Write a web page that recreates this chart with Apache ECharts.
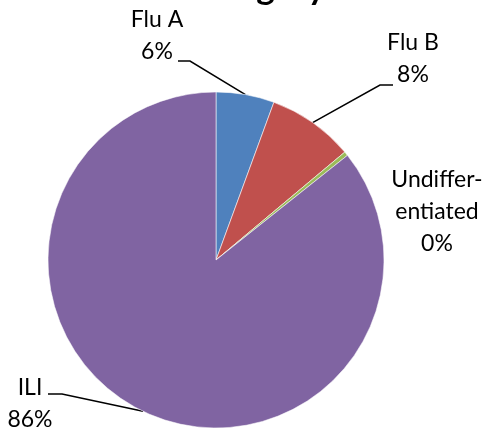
<!DOCTYPE html>
<html>
<head>
<meta charset="utf-8">
<script src="https://cdn.jsdelivr.net/npm/echarts@6/dist/echarts.min.js"></script>
<style>
html,body{margin:0;padding:0;background:#fff;}
#chart{width:487px;height:435px;}
</style>
</head>
<body>
<div id="chart"></div>
<script>
// ---- data ----
var categories = ['Flu A', 'Flu B', 'Undifferentiated', 'ILI'];
var labelNames = ['Flu A', 'Flu B', 'Undiffer-\nentiated', 'ILI'];
var values = [5.6, 8.3, 0.4, 85.7];
var colors = ['#4F81BD', '#C0504D', '#9BBB59', '#8064A2'];
var titleText = 'Category';

// label placement (layout only)
var labelPos = {
  'Flu A': { x: 157, y: 4, line: [[190, 61], [178, 61]] },
  'Flu B': { x: 413, y: 27, line: [[380, 85], [393, 85]] },
  'Undifferentiated': { x: 437, y: 164, line: null },
  'ILI': { x: 30, y: 372, line: [[62, 394], [48, 394]] }
};

var total = values.reduce(function (a, b) { return a + b; }, 0);
var chart = echarts.init(document.getElementById('chart'));
chart.setOption({
  animation: false,
  title: {
    text: titleText,
    left: 184,
    top: -30,
    padding: 0,
    textStyle: { fontFamily: 'Lato', fontWeight: 'bold', fontSize: 35, color: '#000' }
  },
  series: [{
    type: 'pie',
    center: [216, 260],
    radius: 168,
    startAngle: 90,
    clockwise: true,
    avoidLabelOverlap: false,
    minShowLabelAngle: 0,
    itemStyle: { borderColor: 'rgba(255,255,255,0.55)', borderWidth: 1 },
    label: {
      show: true,
      position: 'outside',
      fontFamily: 'Lato',
      fontSize: 23,
      lineHeight: 32,
      color: '#000',
      align: 'center',
      formatter: function (p) {
        return labelNames[p.dataIndex] + '\n' + Math.round(p.value / total * 100) + '%';
      }
    },
    labelLine: { show: true, lineStyle: { color: '#000', width: 1.5 } },
    labelLayout: function (params) {
      var name = categories[params.dataIndex];
      var cfg = labelPos[name];
      var res = { x: cfg.x, y: cfg.y, align: 'center', verticalAlign: 'top' };
      if (cfg.line && params.labelLinePoints) {
        res.labelLinePoints = [params.labelLinePoints[0], cfg.line[0], cfg.line[1]];
      }
      return res;
    },
    data: categories.map(function (c, i) {
      var d = { name: c, value: values[i], itemStyle: { color: colors[i] } };
      if (c === 'Undifferentiated') d.labelLine = { show: false };
      return d;
    })
  }]
});
</script>
</body>
</html>
